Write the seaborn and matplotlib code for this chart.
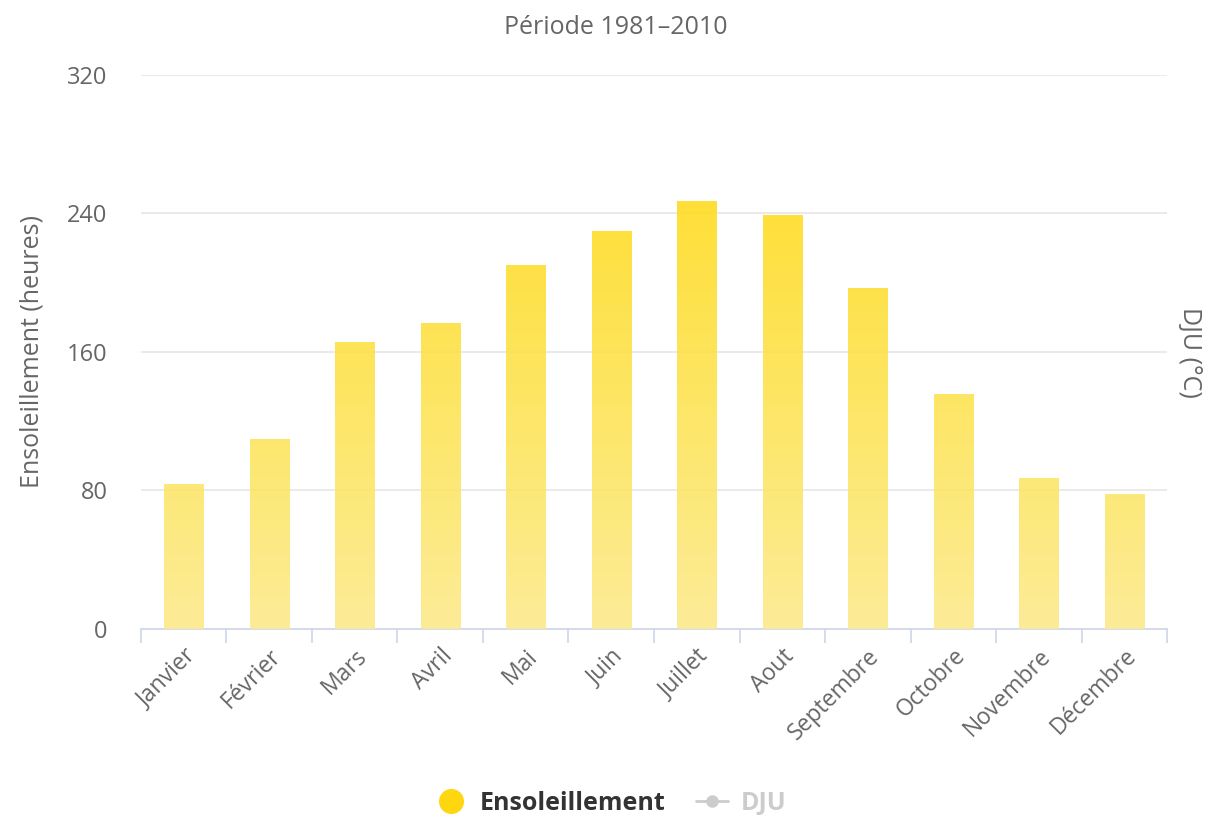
import numpy as np
import pandas as pd
import matplotlib
matplotlib.use("Agg")
import matplotlib.pyplot as plt
import seaborn as sns
from matplotlib.lines import Line2D
from matplotlib.colors import LinearSegmentedColormap

months = ["Janvier", "Février", "Mars", "Avril", "Mai", "Juin", "Juillet",
          "Aout", "Septembre", "Octobre", "Novembre", "Décembre"]
ensoleillement = [84, 110, 166, 177, 210, 230, 247, 239, 197, 136, 87, 78]
yticks = [0, 80, 160, 240, 320]

sns.set_theme(style="white")
plt.rcParams['font.family'] = ['Open Sans', 'DejaVu Sans']

fig = plt.figure(figsize=(12.12, 8.18), dpi=100)
ax = fig.add_axes([0.1163, 0.2311, 0.8466, 0.6772])

df = pd.DataFrame({"mois": months, "heures": ensoleillement})
sns.barplot(data=df, x="mois", y="heures", color="#FFE14A", width=0.46, ax=ax,
            saturation=1, zorder=3)

ax.set_ylim(0, 320)
ax.set_xlim(-0.5, len(months) - 0.5)
ax.set_yticks(yticks)
ax.set_yticklabels([str(v) for v in yticks], color="#666666", fontsize=17)
ax.yaxis.grid(True, color="#e6e6e6", linewidth=1.2, zorder=0)
ax.set_axisbelow(True)

# gradient fill in bars
cmap = LinearSegmentedColormap.from_list("sun", ["#FCEB8E", "#FFDA10"])
grad = np.linspace(0, 1, 256).reshape(-1, 1)
for p in ax.patches:
    x0 = p.get_x()
    w = p.get_width()
    p.set_facecolor("none")
    p.set_edgecolor("none")
    im = ax.imshow(grad, cmap=cmap, aspect="auto", origin="lower",
                   extent=[x0, x0 + w, 0, 300], zorder=3, alpha=0.92,
                   vmin=0, vmax=1)
    im.set_clip_path(p)
ax.set_xlim(-0.5, len(months) - 0.5)
ax.set_ylim(0, 320)

for s in ["top", "right", "left"]:
    ax.spines[s].set_visible(False)
ax.spines["bottom"].set_color("#ccd6eb")
ax.spines["bottom"].set_linewidth(1.2)

ax.set_xticks(np.arange(len(months)))
ax.set_xticklabels(months, rotation=45, ha="right", rotation_mode="anchor",
                   color="#666666", fontsize=16.5)
ax.set_xticks(np.arange(-0.5, len(months)), minor=True)
ax.tick_params(axis="x", which="major", length=0, pad=11)
ax.tick_params(axis="x", which="minor", length=10, color="#ccd6eb", width=1.2,
               bottom=True)
ax.tick_params(axis="y", length=0, pad=24)

ax.set_xlabel("")
ax.set_ylabel("Ensoleillement (heures)", color="#666666", fontsize=18)
ax.yaxis.set_label_coords(-0.094, 0.5)

fig.text(1190 / 1212, 1 - 352 / 818, "DJU (°C)", rotation=270, color="#666666",
         fontsize=18, ha="center", va="center")

fig.text(0.508, 1 - 27 / 818, "Période 1981–2010", color="#666666", fontsize=18,
         ha="center", va="center")

handles = [
    Line2D([0], [0], marker="o", linestyle="none", markersize=17,
           markerfacecolor="#FFD60F", markeredgecolor="#FFD60F"),
    Line2D([0], [0], marker="o", linestyle="-", color="#cccccc", linewidth=2,
           markersize=8, markerfacecolor="#cccccc", markeredgecolor="#cccccc"),
]
leg = fig.legend(handles, ["Ensoleillement", "DJU"], loc="center",
                 bbox_to_anchor=(0.504, 1 - 803 / 818), ncol=2, frameon=False,
                 prop={"size": 18, "weight": "bold"}, handlelength=1.3,
                 columnspacing=1.2, handletextpad=0.5)
texts = leg.get_texts()
texts[0].set_color("#333333")
texts[1].set_color("#cccccc")

fig.savefig("out.png", dpi=100, facecolor="white")
